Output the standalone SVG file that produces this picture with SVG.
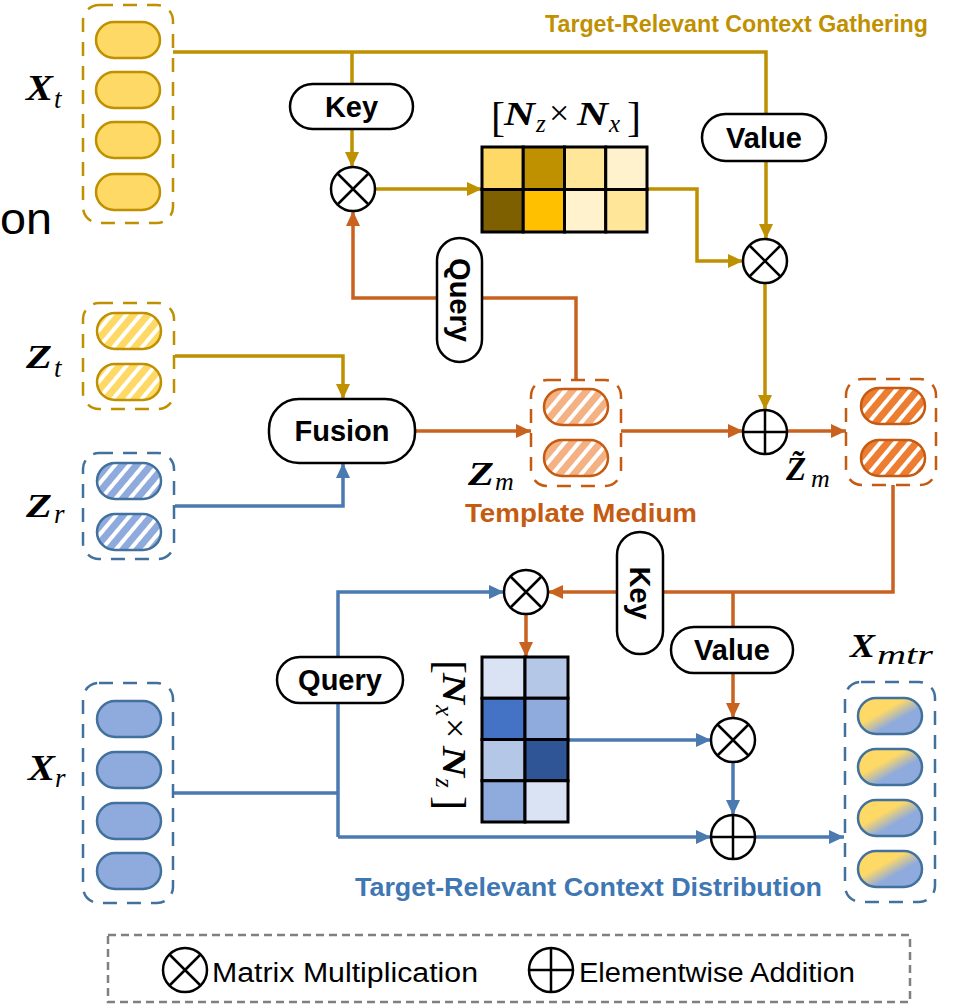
<svg xmlns="http://www.w3.org/2000/svg" width="961" height="1005" viewBox="0 0 961 1005">
<defs>
<style>
.conn{fill:none;stroke-width:3.5}
.g{stroke:#BF9000}
.b{stroke:#4A7AB0}
.o{stroke:#C9611F}
.lbl{fill:#fff;stroke:#000;stroke-width:2.5}
.lt{font-family:"Liberation Sans",Arial,sans-serif;font-weight:bold;font-size:29px;text-anchor:middle;fill:#000}
.dbox{fill:none;stroke-width:2.5;stroke-dasharray:14 10}
.pill{stroke-width:2.5}
.cell{stroke:#000;stroke-width:3}
.m{font-family:"Liberation Serif","Times New Roman",serif;font-weight:bold;font-style:italic;fill:#000}
.ms{font-family:"Liberation Serif","Times New Roman",serif;font-style:italic;fill:#000}
.mr{font-family:"Liberation Serif","Times New Roman",serif;fill:#000}
.ttl{font-family:"Liberation Sans",Arial,sans-serif;font-weight:bold;font-size:26px}
.leg{font-family:"Liberation Sans",Arial,sans-serif;font-size:27px;fill:#000}
</style>
<marker id="aG" markerUnits="userSpaceOnUse" markerWidth="15" markerHeight="14" refX="15" refY="7" orient="auto"><path d="M0,0 L15,7 L0,14 z" fill="#BF9000"/></marker>
<marker id="aB" markerUnits="userSpaceOnUse" markerWidth="15" markerHeight="14" refX="15" refY="7" orient="auto"><path d="M0,0 L15,7 L0,14 z" fill="#4A7AB0"/></marker>
<marker id="aO" markerUnits="userSpaceOnUse" markerWidth="15" markerHeight="14" refX="15" refY="7" orient="auto"><path d="M0,0 L15,7 L0,14 z" fill="#C9611F"/></marker>
<pattern id="hY" patternUnits="userSpaceOnUse" width="11" height="11" patternTransform="rotate(40)"><rect width="11" height="11" fill="#FFD966"/><rect width="4" height="11" fill="#fff"/></pattern>
<pattern id="hB" patternUnits="userSpaceOnUse" width="11" height="11" patternTransform="rotate(40)"><rect width="11" height="11" fill="#8FAADC"/><rect width="4" height="11" fill="#fff"/></pattern>
<pattern id="hO1" patternUnits="userSpaceOnUse" width="11" height="11" patternTransform="rotate(40)"><rect width="11" height="11" fill="#F4B183"/><rect width="4" height="11" fill="#fff"/></pattern>
<pattern id="hO2" patternUnits="userSpaceOnUse" width="11" height="11" patternTransform="rotate(40)"><rect width="11" height="11" fill="#ED7D31"/><rect width="4" height="11" fill="#fff"/></pattern>
<linearGradient id="mix" x1="0" y1="0" x2="1" y2="1"><stop offset="0" stop-color="#FFD966"/><stop offset="0.38" stop-color="#FFD966"/><stop offset="0.62" stop-color="#8FAADC"/><stop offset="1" stop-color="#8FAADC"/></linearGradient>
<g id="mul"><circle r="22" fill="#fff" stroke="#000" stroke-width="2.5"/><path d="M-15.5,-15.5 L15.5,15.5 M15.5,-15.5 L-15.5,15.5" stroke="#000" stroke-width="2.5"/></g>
<g id="add"><circle r="22" fill="#fff" stroke="#000" stroke-width="2.5"/><path d="M-22,0 H22 M0,-22 V22" stroke="#000" stroke-width="2.5"/></g>
</defs>
<rect width="961" height="1005" fill="#fff"/>

<!-- texts -->
<text x="0" y="234" font-family="Liberation Sans, Arial, sans-serif" font-size="44" fill="#000" textLength="52" lengthAdjust="spacingAndGlyphs">on</text>
<text class="ttl" x="545" y="32" fill="#BF9000" font-size="23" style="font-size:23px" textLength="383" lengthAdjust="spacingAndGlyphs">Target-Relevant Context Gathering</text>
<text class="ttl" x="465" y="522" fill="#C55A11" textLength="232" lengthAdjust="spacingAndGlyphs">Template Medium</text>
<text class="ttl" x="355" y="896" fill="#3F77B3" textLength="467" lengthAdjust="spacingAndGlyphs">Target-Relevant Context Distribution</text>

<!-- connectors -->
<g id="connectors">
<path class="conn g" d="M173,52 H766 V239" marker-end="url(#aG)"/>
<path class="conn g" d="M352,52 V167" marker-end="url(#aG)"/>
<path class="conn g" d="M375,189 H482" marker-end="url(#aG)"/>
<path class="conn g" d="M647,189 H697 V261 H743" marker-end="url(#aG)"/>
<path class="conn g" d="M765,283 V410" marker-end="url(#aG)"/>
<path class="conn g" d="M175,356 H343 V399" marker-end="url(#aG)"/>
<path class="conn b" d="M175,506 H343 V463" marker-end="url(#aB)"/>
<path class="conn o" d="M415,431 H531" marker-end="url(#aO)"/>
<path class="conn o" d="M576,380 V298 H353 V211" marker-end="url(#aO)"/>
<path class="conn o" d="M621,431 H743" marker-end="url(#aO)"/>
<path class="conn o" d="M787,431 H846" marker-end="url(#aO)"/>
<path class="conn o" d="M893,485 V592 H548" marker-end="url(#aO)"/>
<path class="conn o" d="M733,592 V718" marker-end="url(#aO)"/>
<path class="conn o" d="M526,614 V657" marker-end="url(#aO)"/>
<path class="conn b" d="M173,793 H338"/>
<path class="conn b" d="M338,837 V592 H504" marker-end="url(#aB)"/>
<path class="conn b" d="M338,837 H711" marker-end="url(#aB)"/>
<path class="conn b" d="M568,740 H711" marker-end="url(#aB)"/>
<path class="conn b" d="M733,762 V815" marker-end="url(#aB)"/>
<path class="conn b" d="M755,837 H844" marker-end="url(#aB)"/>
</g>

<!-- X_t -->
<g id="Xt">
<rect class="dbox" x="83" y="5" width="90" height="218" rx="16" stroke="#BF9000"/>
<rect class="pill" x="96" y="22" width="64" height="36" rx="18" fill="#FFD966" stroke="#BF9000"/>
<rect class="pill" x="96" y="72" width="64" height="36" rx="18" fill="#FFD966" stroke="#BF9000"/>
<rect class="pill" x="96" y="122" width="64" height="36" rx="18" fill="#FFD966" stroke="#BF9000"/>
<rect class="pill" x="96" y="174" width="64" height="36" rx="18" fill="#FFD966" stroke="#BF9000"/>
<text class="m" x="26" y="100" font-size="35" textLength="27" lengthAdjust="spacingAndGlyphs">X</text><text class="ms" x="54" y="108" font-size="27">t</text>
</g>

<!-- Z_t -->
<g id="Zt">
<rect class="dbox" x="83" y="303" width="91" height="106" rx="16" stroke="#BF9000"/>
<rect class="pill" x="97" y="313" width="64" height="36" rx="18" fill="url(#hY)" stroke="#BF9000"/>
<rect class="pill" x="97" y="364" width="64" height="36" rx="18" fill="url(#hY)" stroke="#BF9000"/>
<text class="m" x="26" y="368" font-size="33" textLength="26" lengthAdjust="spacingAndGlyphs">Z</text><text class="ms" x="54" y="377" font-size="27">t</text>
</g>

<!-- Z_r -->
<g id="Zr">
<rect class="dbox" x="83" y="453" width="91" height="106" rx="16" stroke="#41719C"/>
<rect class="pill" x="97" y="463" width="64" height="36" rx="18" fill="url(#hB)" stroke="#41719C"/>
<rect class="pill" x="97" y="514" width="64" height="36" rx="18" fill="url(#hB)" stroke="#41719C"/>
<text class="m" x="26" y="517" font-size="33" textLength="26" lengthAdjust="spacingAndGlyphs">Z</text><text class="ms" x="54" y="523" font-size="27">r</text>
</g>

<!-- X_r -->
<g id="Xr">
<rect class="dbox" x="83" y="683" width="90" height="220" rx="16" stroke="#41719C"/>
<rect class="pill" x="97" y="701" width="64" height="36" rx="18" fill="#8FAADC" stroke="#41719C"/>
<rect class="pill" x="97" y="752" width="64" height="36" rx="18" fill="#8FAADC" stroke="#41719C"/>
<rect class="pill" x="97" y="803" width="64" height="36" rx="18" fill="#8FAADC" stroke="#41719C"/>
<rect class="pill" x="97" y="853" width="64" height="36" rx="18" fill="#8FAADC" stroke="#41719C"/>
<text class="m" x="28" y="780" font-size="35" textLength="27" lengthAdjust="spacingAndGlyphs">X</text><text class="ms" x="55" y="787" font-size="27">r</text>
</g>

<!-- Key (top) -->
<g id="keyTop"><rect class="lbl" x="290" y="84" width="123" height="45" rx="22.5"/><text class="lt" x="351.5" y="117">Key</text></g>
<!-- Value (top) -->
<g id="valueTop"><rect class="lbl" x="702" y="114" width="124" height="47" rx="23.5"/><text class="lt" x="764" y="148">Value</text></g>
<!-- Query (top, vertical) -->
<g id="queryTop"><rect class="lbl" x="437" y="238" width="45" height="124" rx="22.5"/><text class="lt" transform="translate(459.5,300) rotate(90)" x="0" y="10">Query</text></g>
<!-- Fusion -->
<g id="fusion"><rect class="lbl" x="269" y="399" width="146" height="64" rx="30"/><text class="lt" x="342" y="441">Fusion</text></g>

<!-- ops -->
<g id="mulTop"><use href="#mul" x="353" y="189"/></g>
<g id="mulTopRight"><use href="#mul" x="765" y="261"/></g>
<g id="addMid"><use href="#add" x="765" y="432"/></g>
<g id="mulLow"><use href="#mul" x="526" y="592"/></g>
<g id="mulLowRight"><use href="#mul" x="733" y="740"/></g>
<g id="addLow"><use href="#add" x="733" y="837"/></g>

<!-- top matrix -->
<g id="attnTop">
<rect class="cell" x="482" y="147" width="41.25" height="42.5" fill="#FFD966"/>
<rect class="cell" x="523.25" y="147" width="41.25" height="42.5" fill="#BF9000"/>
<rect class="cell" x="564.5" y="147" width="41.25" height="42.5" fill="#FFE699"/>
<rect class="cell" x="605.75" y="147" width="41.25" height="42.5" fill="#FFF2CC"/>
<rect class="cell" x="482" y="189.5" width="41.25" height="42.5" fill="#7F6000"/>
<rect class="cell" x="523.25" y="189.5" width="41.25" height="42.5" fill="#FFC000"/>
<rect class="cell" x="564.5" y="189.5" width="41.25" height="42.5" fill="#FFF2CC"/>
<rect class="cell" x="605.75" y="189.5" width="41.25" height="42.5" fill="#FFE699"/>
<g transform="translate(493,125)">
<text class="mr" x="-2" y="6" font-size="42">[</text>
<text class="m" x="11" y="0" font-size="34" textLength="31" lengthAdjust="spacingAndGlyphs">N</text>
<text class="ms" x="43" y="7" font-size="25">z</text>
<text class="mr" x="56" y="0" font-size="36">×</text>
<text class="m" x="84" y="0" font-size="34" textLength="31" lengthAdjust="spacingAndGlyphs">N</text>
<text class="ms" x="116" y="7" font-size="25">x</text>
<text class="mr" x="134" y="6" font-size="42">]</text>
</g>
</g>

<!-- Template medium Z_m -->
<g id="Zm">
<rect class="dbox" x="531" y="380" width="90" height="106" rx="16" stroke="#C55A11"/>
<rect class="pill" x="544" y="389" width="64" height="36" rx="18" fill="url(#hO1)" stroke="#C55A11"/>
<rect class="pill" x="544" y="440" width="64" height="36" rx="18" fill="url(#hO1)" stroke="#C55A11"/>
<text class="m" x="468" y="485" font-size="33" textLength="26" lengthAdjust="spacingAndGlyphs">Z</text><text class="ms" x="495" y="490" font-size="26">m</text>
</g>

<!-- Z~m -->
<g id="Zm2">
<rect class="dbox" x="846" y="379" width="90" height="106" rx="16" stroke="#C55A11"/>
<rect class="pill" x="861" y="388" width="64" height="36" rx="18" fill="url(#hO2)" stroke="#C55A11"/>
<rect class="pill" x="861" y="440" width="64" height="36" rx="18" fill="url(#hO2)" stroke="#C55A11"/>
<text class="m" x="786" y="480" font-size="33">Z&#x303;</text>
<text class="ms" x="811" y="487" font-size="26">m</text>
</g>

<!-- Key (low, vertical) -->
<g id="keyLow"><rect class="lbl" x="617" y="532" width="46" height="122" rx="23"/><text class="lt" transform="translate(640,593) rotate(90)" x="0" y="10">Key</text></g>
<!-- Value (low) -->
<g id="valueLow"><rect class="lbl" x="671" y="627" width="122" height="46" rx="23"/><text class="lt" x="732" y="660">Value</text></g>
<!-- Query (low) -->
<g id="queryLow"><rect class="lbl" x="277" y="657" width="126" height="46" rx="23"/><text class="lt" x="340" y="690">Query</text></g>

<!-- lower matrix -->
<g id="attnLow">
<rect class="cell" x="482" y="657" width="43" height="41.25" fill="#DAE3F3"/>
<rect class="cell" x="525" y="657" width="43" height="41.25" fill="#B4C7E7"/>
<rect class="cell" x="482" y="698.25" width="43" height="41.25" fill="#4472C4"/>
<rect class="cell" x="525" y="698.25" width="43" height="41.25" fill="#8FAADC"/>
<rect class="cell" x="482" y="739.5" width="43" height="41.25" fill="#B4C7E7"/>
<rect class="cell" x="525" y="739.5" width="43" height="41.25" fill="#2F5597"/>
<rect class="cell" x="482" y="780.75" width="43" height="41.25" fill="#8FAADC"/>
<rect class="cell" x="525" y="780.75" width="43" height="41.25" fill="#DAE3F3"/>
<g transform="translate(443,662) rotate(90)">
<text class="mr" x="-2" y="6" font-size="42">[</text>
<text class="m" x="11" y="0" font-size="34" textLength="31" lengthAdjust="spacingAndGlyphs">N</text>
<text class="ms" x="43" y="7" font-size="25">x</text>
<text class="mr" x="56" y="0" font-size="36">×</text>
<text class="m" x="84" y="0" font-size="34" textLength="31" lengthAdjust="spacingAndGlyphs">N</text>
<text class="ms" x="116" y="7" font-size="25">z</text>
<text class="mr" x="134" y="6" font-size="42">]</text>
</g>
</g>

<!-- X_mtr -->
<g id="Xmtr">
<rect class="dbox" x="845" y="682" width="90" height="220" rx="16" stroke="#41719C"/>
<rect class="pill" x="858" y="698" width="64" height="36" rx="18" fill="url(#mix)" stroke="#41719C"/>
<rect class="pill" x="858" y="749" width="64" height="36" rx="18" fill="url(#mix)" stroke="#41719C"/>
<rect class="pill" x="858" y="800" width="64" height="36" rx="18" fill="url(#mix)" stroke="#41719C"/>
<rect class="pill" x="858" y="851" width="64" height="36" rx="18" fill="url(#mix)" stroke="#41719C"/>
<text class="m" x="850" y="657" font-size="33" textLength="25" lengthAdjust="spacingAndGlyphs">X</text><text class="ms" x="877" y="664" font-size="28" textLength="56" lengthAdjust="spacingAndGlyphs">mtr</text>
</g>

<!-- legend -->
<g id="legend">
<rect x="108" y="935" width="802" height="67" fill="none" stroke="#808080" stroke-width="2.5" stroke-dasharray="8 5"/>
<use href="#mul" x="185" y="970"/>
<text class="leg" x="212" y="982" textLength="266" lengthAdjust="spacingAndGlyphs">Matrix Multiplication</text>
<use href="#add" x="551" y="970"/>
<text class="leg" x="579" y="982" textLength="276" lengthAdjust="spacingAndGlyphs">Elementwise Addition</text>
</g>
</svg>
